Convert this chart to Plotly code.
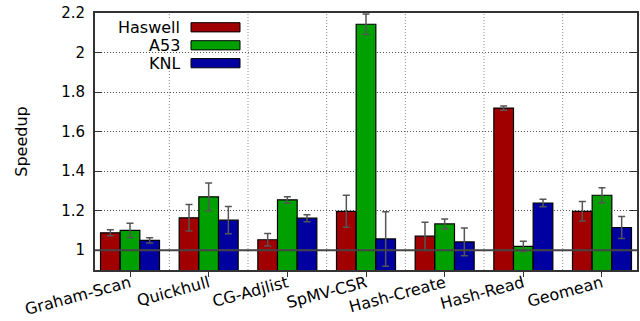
import plotly.graph_objects as go

# Benchmarks and measured speedups (mean with error half-widths)
benchmarks = ["Graham-Scan", "Quickhull", "CG-Adjlist", "SpMV-CSR",
              "Hash-Create", "Hash-Read", "Geomean"]
haswell = [1.088, 1.164, 1.053, 1.197, 1.071, 1.719, 1.197]
haswell_err = [0.015, 0.067, 0.031, 0.081, 0.071, 0.011, 0.049]
a53 = [1.10, 1.27, 1.255, 2.143, 1.133, 1.02, 1.278]
a53_err = [0.036, 0.07, 0.016, 0.052, 0.025, 0.026, 0.038]
knl = [1.05, 1.152, 1.162, 1.057, 1.042, 1.239, 1.115]
knl_err = [0.013, 0.069, 0.018, 0.138, 0.07, 0.019, 0.056]

series = [("Haswell", haswell, haswell_err, "#a00000"),
          ("A53", a53, a53_err, "#00a000"),
          ("KNL", knl, knl_err, "#0000a0")]

yticks = [1, 1.2, 1.4, 1.6, 1.8, 2, 2.2]
ytick_text = ["1", "1.2", "1.4", "1.6", "1.8", "2", "2.2"]

FONT = "DejaVu Sans"
W, H = 640, 321
L, R, T, B = 95, 3, 13, 51
PW, PH = W - L - R, H - T - B

fig = go.Figure()
for name, vals, errs, col in series:
    fig.add_trace(go.Bar(
        x=benchmarks, y=vals, name=name,
        marker=dict(color=col, line=dict(color="black", width=1.2)),
        error_y=dict(type="data", array=errs, visible=True,
                     color="#555555", thickness=1.5, width=3.5),
        showlegend=False,
    ))

def px_x(p):
    return (p - L) / PW

def px_y(p):
    return 1 - (p - T) / PH

shapes = []
# dotted separators between benchmark groups
for k in range(len(benchmarks) - 1):
    shapes.append(dict(type="line", xref="x", yref="paper",
                       x0=k + 0.5, x1=k + 0.5, y0=0, y1=1, layer="below",
                       line=dict(color="#8a8a8a", width=1, dash="1px,2px")))
# white backing for the key
shapes.append(dict(type="rect", xref="paper", yref="paper",
                   x0=px_x(96), x1=px_x(247), y0=px_y(71), y1=px_y(19),
                   fillcolor="white", line=dict(width=0), layer="between"))
# baseline at speedup 1
shapes.append(dict(type="line", xref="paper", yref="y", x0=0, x1=1,
                   y0=1, y1=1, layer="above",
                   line=dict(color="#444444", width=2)))

annotations = []
row_y = [27.3, 45.3, 63.2]
for (name, _, _, col), ry in zip(series, row_y):
    shapes.append(dict(type="rect", xref="paper", yref="paper",
                       x0=px_x(191), x1=px_x(240),
                       y0=px_y(ry + 4.6), y1=px_y(ry - 4.6),
                       fillcolor=col, line=dict(color="black", width=1),
                       layer="above"))
    annotations.append(dict(xref="paper", yref="paper", x=px_x(181),
                            y=px_y(ry), text=name, showarrow=False,
                            xanchor="right", yanchor="middle",
                            height=16, borderpad=0,
                            font=dict(family=FONT, size=16, color="black")))

fig.update_layout(
    width=W, height=H,
    margin=dict(l=L, r=R, t=T, b=B, pad=0),
    paper_bgcolor="white", plot_bgcolor="white",
    barmode="group", bargap=0.25, bargroupgap=0,
    shapes=shapes, annotations=annotations,
    font=dict(family=FONT, size=15, color="black"),
    xaxis=dict(range=[-0.445, 6.445], showgrid=False, tickangle=-15,
               automargin=False, ticklabelstandoff=-9,
               ticks="outside", ticklen=5, tickcolor="#333333",
               showline=True, linecolor="#333333", linewidth=2, mirror=True,
               tickfont=dict(family=FONT, size=16)),
    yaxis=dict(range=[0.9, 2.2], tickvals=yticks, ticktext=ytick_text,
               automargin=False, ticklabelstandoff=5,
               showgrid=True, gridcolor="#555555", griddash="1px,2px",
               gridwidth=1, zeroline=False,
               ticks="inside", ticklen=7, tickcolor="#333333",
               showline=True, linecolor="#333333", linewidth=2,
               mirror="allticks",
               title=dict(text="Speedup", font=dict(family=FONT, size=16),
                          standoff=30),
               tickfont=dict(family=FONT, size=15)),
)

fig.write_html("out.html")
